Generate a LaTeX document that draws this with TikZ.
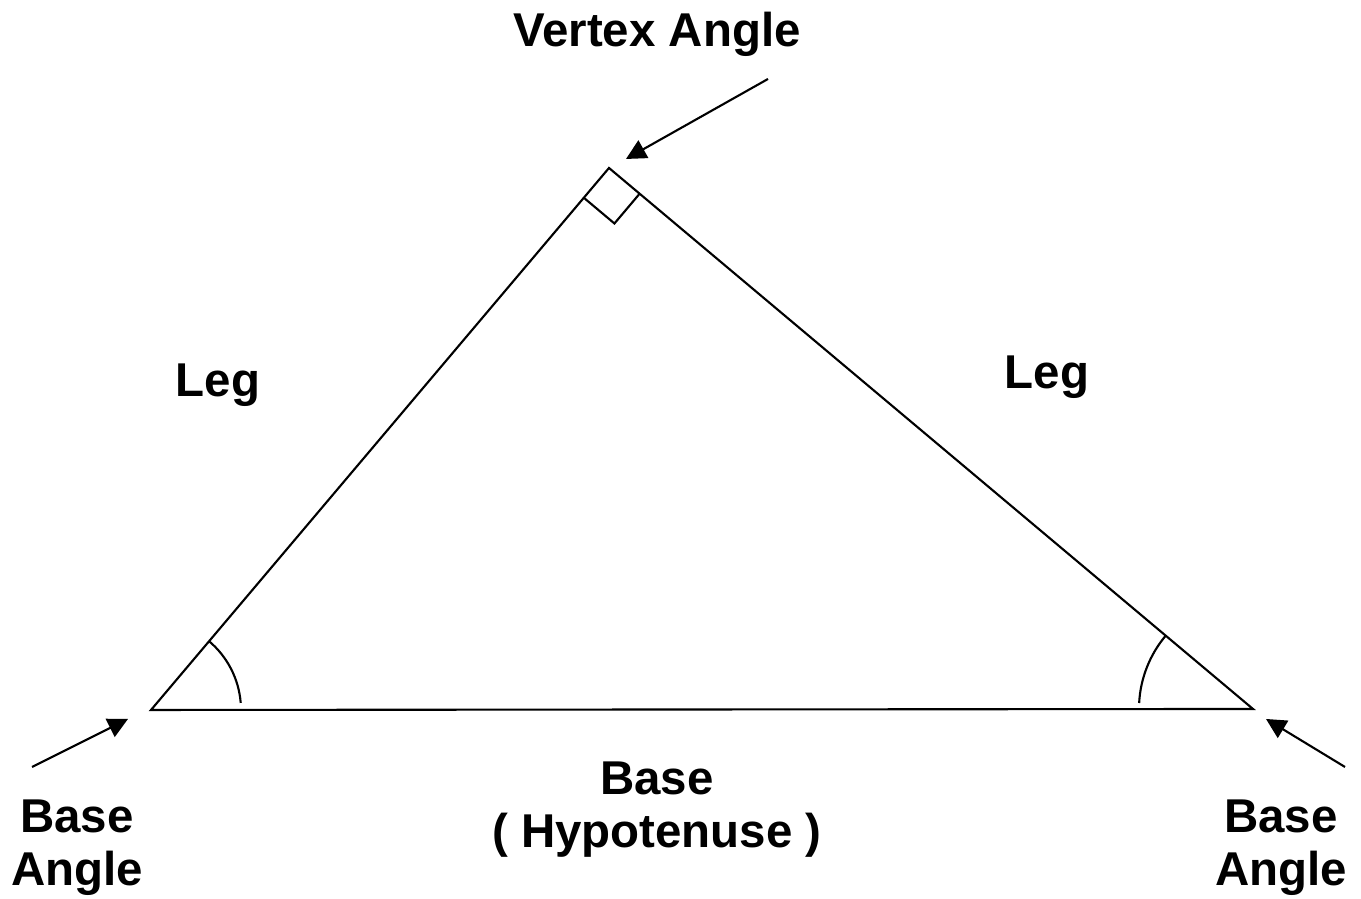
\documentclass[tikz,border=0pt]{standalone}
\usepackage{fontspec}
\setmainfont{Liberation Sans}
\usetikzlibrary{arrows.meta,calc}

\begin{document}
\begin{tikzpicture}[
        every node/.style={font=\fontsize{13.5}{15.3}\selectfont\bfseries, inner sep=0pt},
        label/.style={align=center, anchor=base},
        side/.style={line width=0.6pt},
        pointer/.style={-{Triangle[length=2mm,width=2mm]}, line width=0.6pt}
      ]
  \useasboundingbox (0,0) rectangle (13.61,8.99);

  % corners of the triangle
  \coordinate (left) at (1.51,1.89);
  \coordinate (right) at (12.53,1.90);
  \coordinate (apex) at (6.09,7.31);

  \draw[side] (left) -- (apex) -- (right) -- cycle;

  % right angle mark and base angle arcs
  \coordinate (markl) at ($(apex)!0.39cm!(left)$);
  \coordinate (markr) at ($(apex)!0.40cm!(right)$);
  \draw[side] (markl) -- ($(markl)+(markr)-(apex)$) -- (markr);
  \draw[side] ($(left)+(4.5:0.9)$) arc (4.5:50:0.9);
  \draw[side] ($(right)+(140:1.14)$) arc (140:177:1.14);

  % labels
  \node[label] (vertex) at (6.57,8.52) {Vertex Angle};
  \node[label] (legl) at (2.18,5.02) {Leg};
  \node[label] (legr) at (10.47,5.10) {Leg};
  \node[label] (base) at (6.57,0.51) {Base\\( Hypotenuse )};
  \node[label] (basel) at (0.77,0.13) {Base\\Angle};
  \node[label] (baser) at (12.81,0.13) {Base\\Angle};

  % pointers
  \coordinate (vtail) at (7.68,8.20);
  \coordinate (vtip) at (6.26,7.40);
  \coordinate (ltail) at (0.32,1.32);
  \coordinate (ltip) at (1.28,1.80);
  \coordinate (rtail) at (13.45,1.32);
  \coordinate (rtip) at (12.66,1.80);
  \draw[pointer] (vtail) -- (vtip);
  \draw[pointer] (ltail) -- (ltip);
  \draw[pointer] (rtail) -- (rtip);

\end{tikzpicture}
\end{document}
